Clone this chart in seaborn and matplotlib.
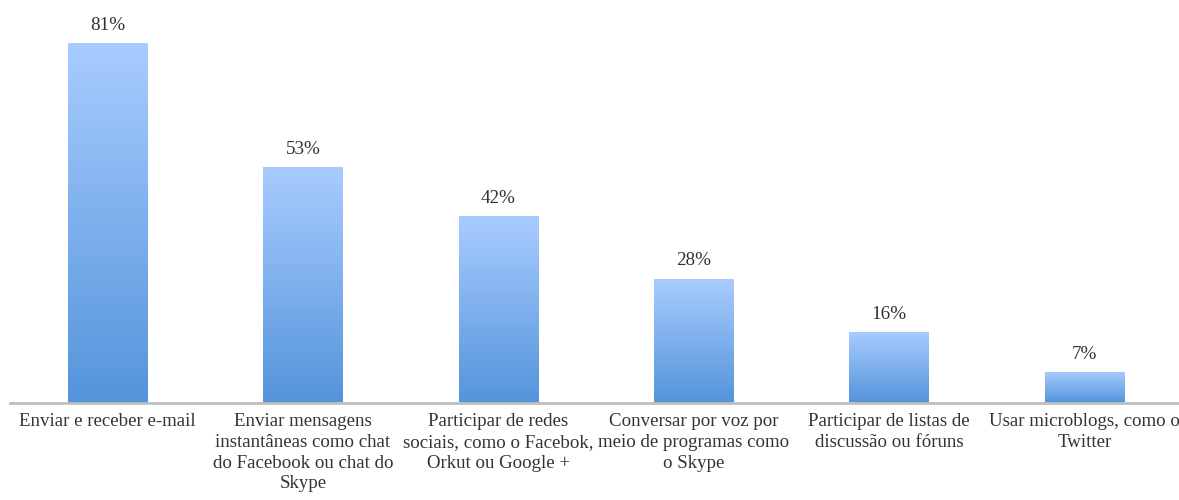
import numpy as np
import pandas as pd
import matplotlib
matplotlib.use("Agg")
import matplotlib.pyplot as plt
from matplotlib.colors import LinearSegmentedColormap
import seaborn as sns

categories = [
    "Enviar e receber e-mail",
    "Enviar mensagens\ninstantâneas como chat\ndo Facebook ou chat do\nSkype",
    "Participar de redes\nsociais, como o Facebok,\nOrkut ou Google +",
    "Conversar por voz por\nmeio de programas como\no Skype",
    "Participar de listas de\ndiscussão ou fóruns",
    "Usar microblogs, como o\nTwitter",
]
values = [81, 53, 42, 28, 16, 7]
value_labels = ["81%", "53%", "42%", "28%", "16%", "7%"]

sns.set_theme(style="white")
plt.rcParams["font.family"] = ["Liberation Serif", "DejaVu Serif"]

df = pd.DataFrame({"categoria": categories, "valor": values})

fig = plt.figure(figsize=(11.79, 5.0), dpi=100)
ax = fig.add_axes([10 / 1179, 97 / 500, 1172 / 1179, 400 / 500])

sns.barplot(data=df, x="categoria", y="valor", ax=ax, width=0.405,
            color="#7FB0EE", saturation=1)

ax.set_xlim(-0.5, len(categories) - 0.5)
ax.set_ylim(0, 90)

# vertical gradient: light at the top of each bar, deeper blue at the base
cmap = LinearSegmentedColormap.from_list("barra", ["#5494DB", "#A8CCFF"])
grad = np.linspace(0, 1, 256).reshape(-1, 1)
for patch, lab in zip(ax.patches, value_labels):
    x0, y0 = patch.get_x(), patch.get_y()
    w, h = patch.get_width(), patch.get_height()
    patch.set_facecolor("none")
    patch.set_edgecolor("none")
    im = ax.imshow(grad, cmap=cmap, origin="lower", aspect="auto",
                   extent=[x0, x0 + w, y0, y0 + h], zorder=2,
                   interpolation="bilinear")
    im.set_clip_path(patch)
    ax.text(x0 + w / 2, y0 + h + 2.1, lab, ha="center", va="bottom",
            fontsize=13.8, color="#333333")

ax.set_xlabel("")
ax.set_ylabel("")
ax.set_yticks([])
ax.tick_params(axis="x", length=0, pad=7, labelsize=13.6, labelcolor="#333333")
ax.set_xticks(range(len(categories)))
ax.set_xticklabels(categories, linespacing=1.3, va="top", ha="center")

for side in ("top", "left", "right"):
    ax.spines[side].set_visible(False)
ax.spines["bottom"].set_color("#BFBFBF")
ax.spines["bottom"].set_linewidth(2)

fig.savefig("out.png", dpi=100, facecolor="white")
